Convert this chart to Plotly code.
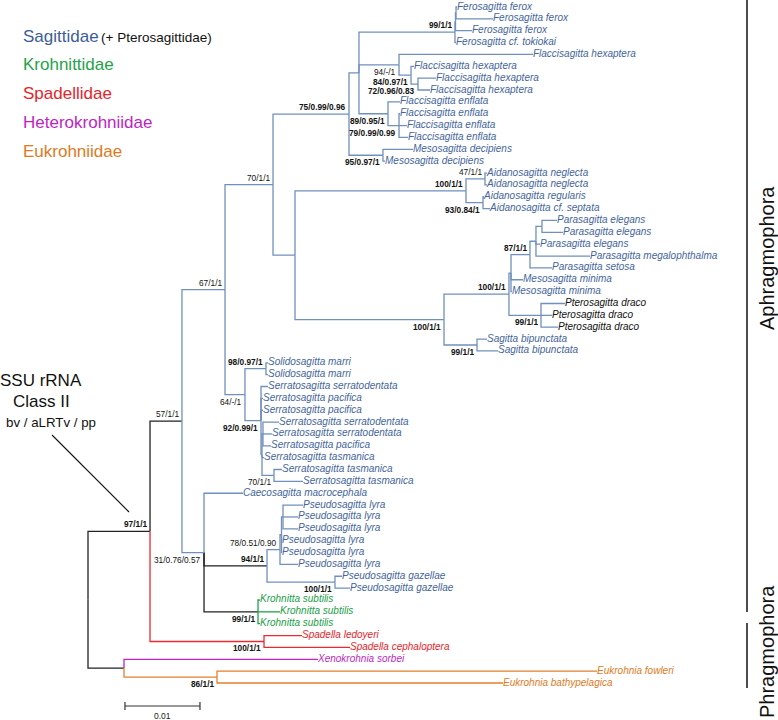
import plotly.graph_objects as go

# ---------------- data ----------------
taxa = [
    "Ferosagitta ferox", "Ferosagitta ferox", "Ferosagitta ferox", "Ferosagitta cf. tokiokai",
    "Flaccisagitta hexaptera", "Flaccisagitta hexaptera", "Flaccisagitta hexaptera", "Flaccisagitta hexaptera",
    "Flaccisagitta enflata", "Flaccisagitta enflata", "Flaccisagitta enflata", "Flaccisagitta enflata",
    "Mesosagitta decipiens", "Mesosagitta decipiens",
    "Aidanosagitta neglecta", "Aidanosagitta neglecta", "Aidanosagitta regularis", "Aidanosagitta cf. septata",
    "Parasagitta elegans", "Parasagitta elegans", "Parasagitta elegans", "Parasagitta megalophthalma",
    "Parasagitta setosa", "Mesosagitta minima", "Mesosagitta minima",
    "Pterosagitta draco", "Pterosagitta draco", "Pterosagitta draco",
    "Sagitta bipunctata", "Sagitta bipunctata",
    "Solidosagitta marri", "Solidosagitta marri",
    "Serratosagitta serratodentata", "Serratosagitta pacifica", "Serratosagitta pacifica",
    "Serratosagitta serratodentata", "Serratosagitta serratodentata", "Serratosagitta pacifica",
    "Serratosagitta tasmanica", "Serratosagitta tasmanica", "Serratosagitta tasmanica",
    "Caecosagitta macrocephala",
    "Pseudosagitta lyra", "Pseudosagitta lyra", "Pseudosagitta lyra",
    "Pseudosagitta lyra", "Pseudosagitta lyra", "Pseudosagitta lyra",
    "Pseudosagitta gazellae", "Pseudosagitta gazellae",
    "Krohnitta subtilis", "Krohnitta subtilis", "Krohnitta subtilis",
    "Spadella ledoyeri", "Spadella cephaloptera",
    "Xenokrohnia sorbei",
    "Eukrohnia fowleri", "Eukrohnia bathypelagica",
]
# distance from root (substitutions / site)
taxon_depth = [
    0.0492, 0.0540, 0.0512, 0.04907,
    0.05933, 0.04347, 0.0464, 0.0456,
    0.0416, 0.0416, 0.04253, 0.04267,
    0.04333, 0.0396,
    0.0532, 0.0532, 0.0528, 0.0536,
    0.06253, 0.06333, 0.06027, 0.06693,
    0.06187, 0.0580, 0.05653,
    0.0636, 0.06187, 0.06267,
    0.0532, 0.05467,
    0.0240, 0.0240,
    0.0240, 0.02333, 0.02333,
    0.02547, 0.02453, 0.0244,
    0.02347, 0.02587, 0.02867,
    0.02067,
    0.02867, 0.0280, 0.0280,
    0.02587, 0.02587, 0.0280,
    0.03387, 0.03493,
    0.02293, 0.0256, 0.02293,
    0.02853, 0.03493,
    0.03067,
    0.06787, 0.05533,
]
taxon_family = (["Sagittidae"] * 25 + ["Pterosagittidae"] * 3 + ["Sagittidae"] * 22 +
                ["Krohnittidae"] * 3 + ["Spadellidae"] * 2 + ["Heterokrohniidae"] +
                ["Eukrohniidae"] * 2)

node_names = ["root", "n97", "n57", "n67", "n70", "n75", "nB", "fero99", "feroA", "feroB",
              "hex94", "hex84", "hex72", "enf89", "enf79", "meso95", "nAP", "aid100", "aid47",
              "aid93", "para100", "paraIn", "paraX", "para87", "paraA", "paraEl", "ptero99",
              "sag99", "n64", "solido98", "serr92", "serrV", "serrSub", "serr70", "n31",
              "pseudo94", "pseudo78", "pseudoMid", "pseudoSub", "gaz100", "krohn99", "spad100",
              "out", "eukro86"]
node_depth = [0.0, 0.00827, 0.01253, 0.01827, 0.02467, 0.0348, 0.03613, 0.04893, 0.0490, 0.04907,
              0.04147, 0.04307, 0.0440, 0.0400, 0.04147, 0.03933, 0.0276, 0.0504, 0.05293,
              0.05267, 0.04747, 0.05613, 0.0564, 0.05893, 0.05973, 0.06053, 0.0604,
              0.05187, 0.02093, 0.02373, 0.02307, 0.0232, 0.02333, 0.0248, 0.01547,
              0.02387, 0.0256, 0.0258, 0.0260, 0.03293, 0.02267, 0.02347,
              0.0048, 0.0172]
node_children = [
    ["n97", "out"], ["n57", "spad100"], ["n67", "n31"], ["n70", "n64"], ["n75", "nAP"],
    ["nB", "meso95"], ["fero99", "hex94", "enf89"], ["feroA", "t4"], ["feroB", "t3"], ["t1", "t2"],
    ["t5", "hex84"], ["t6", "hex72"], ["t7", "t8"], ["t9", "enf79"], ["t10", "t11", "t12"],
    ["t13", "t14"], ["aid100", "para100"], ["aid47", "aid93"], ["t15", "t16"],
    ["t17", "t18"], ["paraIn", "sag99"], ["paraX", "ptero99"], ["para87", "t24", "t25"],
    ["paraA", "t23"], ["paraEl", "t21", "t22"], ["t19", "t20"], ["t26", "t27", "t28"],
    ["t29", "t30"], ["solido98", "serr92"], ["t31", "t32"], ["t33", "t34", "t35", "serrV"],
    ["serrSub", "t39", "serr70"], ["t36", "t37", "t38"], ["t40", "t41"], ["t42", "pseudo94", "krohn99"],
    ["pseudo78", "gaz100"], ["pseudoMid", "t48"], ["pseudoSub", "t46", "t47"], ["t43", "t44", "t45"],
    ["t49", "t50"], ["t51", "t52", "t53"], ["t54", "t55"],
    ["t56", "eukro86"], ["t57", "t58"],
]
node_support = ["", "97/1/1", "57/1/1", "67/1/1", "70/1/1", "75/0.99/0.96", "", "99/1/1", "", "",
                "94/-/1", "84/0.97/1", "72/0.96/0.83", "89/0.95/1", "79/0.99/0.99", "95/0.97/1", "",
                "100/1/1", "47/1/1",
                "93/0.84/1", "100/1/1", "100/1/1", "", "87/1/1", "", "", "99/1/1",
                "99/1/1", "64/-/1", "98/0.97/1", "92/0.99/1", "", "", "70/1/1", "31/0.76/0.57",
                "94/1/1", "78/0.51/0.90", "", "", "100/1/1", "99/1/1", "100/1/1",
                "", "86/1/1"]
# colouring group of the branch leading to each internal node
node_group = (["Backbone"] * 3 + ["Sagittidae"] * 32 + ["Backbone"] + ["Sagittidae"] * 4 +
              ["Backbone", "Spadellidae", "Backbone", "Eukrohniidae"])

legend_families = ["Sagittidae", "Krohnittidae", "Spadellidae", "Heterokrohniidae", "Eukrohniidae"]
scale_bar_length = 0.01

assert len(node_names) == len(node_depth) == len(node_children) == len(node_support) == len(node_group)

# ---------------- styles ----------------
branch_color = {"Backbone": "#222222", "Sagittidae": "#7090bd", "Pterosagittidae": "#7090bd",
                "Krohnittidae": "#1fa34a", "Spadellidae": "#ea2a30", "Heterokrohniidae": "#c322c6",
                "Eukrohniidae": "#e5802a"}
text_color = {"Sagittidae": "#44659b", "Pterosagittidae": "#111111", "Krohnittidae": "#1a9e48",
              "Spadellidae": "#e8232b", "Heterokrohniidae": "#c01fc4", "Eukrohniidae": "#e07a22"}
legend_color = {"Sagittidae": "#3c5d98", "Krohnittidae": "#1fa34a", "Spadellidae": "#e8232b",
                "Heterokrohniidae": "#c01fc4", "Eukrohniidae": "#e07a22"}
support_below = {"hex94", "hex84", "hex72", "enf89", "enf79", "meso95", "aid93", "para100", "ptero99",
                 "sag99", "n64", "serr92", "serr70", "n31", "gaz100", "krohn99", "spad100", "eukro86"}
support_normal_weight = {"n57", "n67", "n70", "hex94", "aid47", "n64", "serr70", "pseudo78", "n31"}
FONT = "Liberation Sans, Arial, Helvetica, sans-serif"

# ---------------- tree layout ----------------
depth = {f"t{i+1}": d for i, d in enumerate(taxon_depth)}
group = {f"t{i+1}": f for i, f in enumerate(taxon_family)}
ypos = {f"t{i+1}": float(i) for i in range(len(taxa))}
children = {}
for n, d, ch, g in zip(node_names, node_depth, node_children, node_group):
    depth[n] = d
    group[n] = g
    children[n] = ch


def place(n):
    if n in ypos:
        return ypos[n]
    ys = [place(c) for c in children[n]]
    ypos[n] = (ys[0] + ys[-1]) / 2.0
    return ypos[n]


place("root")

segs = {}
for p in node_names:
    for c in children[p]:
        col = branch_color[group[c]]
        xs, ys = segs.setdefault(col, ([], []))
        xs += [depth[p], depth[p], depth[c], None]
        ys += [ypos[p], ypos[c], ypos[c], None]

fig = go.Figure()
for col, (xs, ys) in segs.items():
    fig.add_trace(go.Scatter(x=xs, y=ys, mode="lines", line=dict(color=col, width=1.3),
                             hoverinfo="skip", showlegend=False))

fig.add_trace(go.Scatter(
    x=taxon_depth, y=list(range(len(taxa))), mode="text",
    text=taxa, textposition="middle right",
    textfont=dict(family=FONT, size=10, style="italic",
                  color=[text_color[f] for f in taxon_family]),
    hoverinfo="skip", showlegend=False))

annotations = []
for n, s in zip(node_names, node_support):
    if not s:
        continue
    below = n in support_below
    txt = s if n in support_normal_weight else f"<b>{s}</b>"
    annotations.append(dict(
        x=depth[n], y=ypos[n], xref="x", yref="y", text=txt, showarrow=False,
        xanchor="right", yanchor="top" if below else "bottom",
        xshift=-2, yshift=-1 if below else 1, borderpad=0,
        font=dict(family=FONT, size=8.3, color="#111111")))

# scale bar
sb_x0 = 0.00493
sb_y = 58.94
fig.add_shape(type="line", x0=sb_x0, x1=sb_x0 + scale_bar_length, y0=sb_y, y1=sb_y,
              xref="x", yref="y", line=dict(color="#333333", width=1.2))
for xv in (sb_x0, sb_x0 + scale_bar_length):
    fig.add_shape(type="line", x0=xv, x1=xv, y0=sb_y - 0.33, y1=sb_y + 0.33,
                  xref="x", yref="y", line=dict(color="#333333", width=1.2))
annotations.append(dict(x=sb_x0 + scale_bar_length / 2, y=sb_y + 0.25, xref="x", yref="y",
                        text=f"{scale_bar_length:g}", showarrow=False, yanchor="top",
                        font=dict(family=FONT, size=8.5, color="#222222")))

W, H = 778, 720


def px(x, y):
    return x / W, 1 - y / H


# legend
for i, fam in enumerate(legend_families):
    x, y = px(21, 36 + i * 28.8)
    annotations.append(dict(x=x, y=y, xref="paper", yref="paper", text=fam, showarrow=False,
                            xanchor="left", yanchor="middle",
                            font=dict(family=FONT, size=17, color=legend_color[fam])))
x, y = px(99, 37)
annotations.append(dict(x=x, y=y, xref="paper", yref="paper", text="(+ Pterosagittidae)",
                        showarrow=False, xanchor="left", yanchor="middle",
                        font=dict(family=FONT, size=13.5, color="#111111")))

# SSU text block
for t, (cx, cy), sz in [("SSU rRNA", (41, 380), 17), ("Class II", (41, 401), 17),
                        ("bv / aLRTv / pp", (51, 422), 13.3)]:
    x, y = px(cx, cy)
    annotations.append(dict(x=x, y=y, xref="paper", yref="paper", text=t, showarrow=False,
                            xanchor="center", yanchor="middle",
                            font=dict(family=FONT, size=sz, color="#111111")))
x0, y0 = px(52, 435)
x1, y1 = px(129, 512)
fig.add_shape(type="line", x0=x0, y0=y0, x1=x1, y1=y1, xref="paper", yref="paper",
              line=dict(color="#111111", width=1.1))

# Aphragmophora / Phragmophora bars
for (ya, yb), label, ly in [((0, 612), "Aphragmophora", 258), ((623, 688), "Phragmophora", 652)]:
    xa, ya_p = px(747, ya)
    _, yb_p = px(747, yb)
    fig.add_shape(type="line", x0=xa, x1=xa, y0=ya_p, y1=yb_p, xref="paper", yref="paper",
                  line=dict(color="#111111", width=1.5))
    lx, lyp = px(767, ly)
    annotations.append(dict(x=lx, y=lyp, xref="paper", yref="paper", text=label, showarrow=False,
                            textangle=-90, xanchor="center", yanchor="middle",
                            font=dict(family=FONT, size=20, color="#111111")))

fig.update_layout(
    width=W, height=H, margin=dict(l=0, r=0, t=0, b=0),
    paper_bgcolor="white", plot_bgcolor="white",
    xaxis=dict(range=[-0.011733, 0.092], visible=False, fixedrange=True),
    yaxis=dict(range=[60.12, -0.59], visible=False, fixedrange=True),
    annotations=annotations, showlegend=False,
)
fig.write_html("out.html", config={"displayModeBar": False},
               post_script="document.body.style.margin='0';document.body.style.overflow='hidden';")
